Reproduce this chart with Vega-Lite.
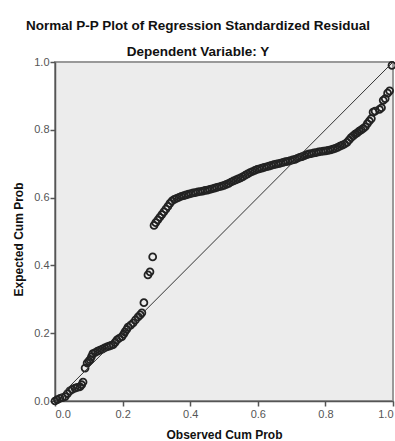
{
  "$schema": "https://vega.github.io/schema/vega-lite/v6.json",
  "width": 338,
  "height": 339,
  "autosize": {"type": "none"},
  "padding": {"left": 55, "top": 62, "right": 2, "bottom": 40},
  "background": "white",
  "title": {
    "text": "Normal P-P Plot of Regression Standardized Residual",
    "subtitle": "Dependent Variable: Y",
    "anchor": "middle",
    "frame": "group",
    "dx": -26,
    "offset": -2,
    "font": "Liberation Sans",
    "fontSize": 13.5,
    "fontWeight": "bold",
    "color": "#111111",
    "subtitleFont": "Liberation Sans",
    "subtitleFontSize": 13.5,
    "subtitleFontWeight": "bold",
    "subtitleColor": "#111111",
    "subtitlePadding": 12
  },
  "config": {
    "view": {"fill": "#ececec", "stroke": "#999999", "strokeWidth": 2},
    "axis": {
      "grid": false,
      "domainColor": "#555555",
      "domainWidth": 1.5,
      "tickColor": "#555555",
      "tickSize": 5,
      "tickWidth": 1.5,
      "labelColor": "#555555",
      "labelFont": "Liberation Sans",
      "labelFontSize": 11,
      "titleFont": "Liberation Sans",
      "titleFontSize": 12,
      "titleFontWeight": "bold",
      "titleColor": "#111111"
    }
  },
  "datasets": {
    "ref": [{"x": 0, "y": 0}, {"x": 1, "y": 1}],
    "pts": [
      {"x": 0.000, "y": 0.000}, {"x": 0.007, "y": 0.004}, {"x": 0.015, "y": 0.008}, {"x": 0.022, "y": 0.010},
      {"x": 0.030, "y": 0.013}, {"x": 0.037, "y": 0.022}, {"x": 0.044, "y": 0.030}, {"x": 0.051, "y": 0.034},
      {"x": 0.059, "y": 0.038}, {"x": 0.066, "y": 0.040}, {"x": 0.074, "y": 0.042}, {"x": 0.079, "y": 0.048},
      {"x": 0.083, "y": 0.056}, {"x": 0.089, "y": 0.097}, {"x": 0.095, "y": 0.112}, {"x": 0.100, "y": 0.118},
      {"x": 0.104, "y": 0.122}, {"x": 0.108, "y": 0.131}, {"x": 0.112, "y": 0.140}, {"x": 0.119, "y": 0.143},
      {"x": 0.126, "y": 0.147}, {"x": 0.133, "y": 0.150}, {"x": 0.140, "y": 0.153}, {"x": 0.147, "y": 0.157},
      {"x": 0.154, "y": 0.160}, {"x": 0.160, "y": 0.162}, {"x": 0.166, "y": 0.164}, {"x": 0.172, "y": 0.166},
      {"x": 0.178, "y": 0.173}, {"x": 0.183, "y": 0.180}, {"x": 0.190, "y": 0.185}, {"x": 0.198, "y": 0.190},
      {"x": 0.203, "y": 0.197}, {"x": 0.207, "y": 0.204}, {"x": 0.212, "y": 0.211}, {"x": 0.216, "y": 0.218},
      {"x": 0.224, "y": 0.224}, {"x": 0.231, "y": 0.230}, {"x": 0.238, "y": 0.239}, {"x": 0.246, "y": 0.248},
      {"x": 0.252, "y": 0.254}, {"x": 0.257, "y": 0.260}, {"x": 0.263, "y": 0.290}, {"x": 0.275, "y": 0.372},
      {"x": 0.281, "y": 0.381}, {"x": 0.289, "y": 0.425}, {"x": 0.293, "y": 0.518}, {"x": 0.298, "y": 0.526},
      {"x": 0.304, "y": 0.534}, {"x": 0.310, "y": 0.542}, {"x": 0.316, "y": 0.550}, {"x": 0.322, "y": 0.558},
      {"x": 0.328, "y": 0.566}, {"x": 0.334, "y": 0.574}, {"x": 0.340, "y": 0.583}, {"x": 0.346, "y": 0.590},
      {"x": 0.353, "y": 0.595}, {"x": 0.360, "y": 0.598}, {"x": 0.367, "y": 0.601}, {"x": 0.374, "y": 0.604},
      {"x": 0.381, "y": 0.606}, {"x": 0.388, "y": 0.608}, {"x": 0.395, "y": 0.610}, {"x": 0.402, "y": 0.612},
      {"x": 0.409, "y": 0.614}, {"x": 0.416, "y": 0.615}, {"x": 0.423, "y": 0.617}, {"x": 0.430, "y": 0.618},
      {"x": 0.437, "y": 0.619}, {"x": 0.444, "y": 0.621}, {"x": 0.451, "y": 0.622}, {"x": 0.458, "y": 0.624},
      {"x": 0.465, "y": 0.626}, {"x": 0.472, "y": 0.628}, {"x": 0.479, "y": 0.630}, {"x": 0.486, "y": 0.632},
      {"x": 0.493, "y": 0.634}, {"x": 0.500, "y": 0.636}, {"x": 0.507, "y": 0.639}, {"x": 0.514, "y": 0.642},
      {"x": 0.521, "y": 0.646}, {"x": 0.528, "y": 0.649}, {"x": 0.535, "y": 0.652}, {"x": 0.542, "y": 0.655},
      {"x": 0.549, "y": 0.658}, {"x": 0.556, "y": 0.662}, {"x": 0.563, "y": 0.666}, {"x": 0.570, "y": 0.670},
      {"x": 0.577, "y": 0.674}, {"x": 0.584, "y": 0.677}, {"x": 0.591, "y": 0.680}, {"x": 0.598, "y": 0.683},
      {"x": 0.605, "y": 0.685}, {"x": 0.612, "y": 0.687}, {"x": 0.619, "y": 0.689}, {"x": 0.626, "y": 0.691},
      {"x": 0.633, "y": 0.693}, {"x": 0.640, "y": 0.695}, {"x": 0.647, "y": 0.697}, {"x": 0.654, "y": 0.699},
      {"x": 0.661, "y": 0.700}, {"x": 0.668, "y": 0.702}, {"x": 0.675, "y": 0.704}, {"x": 0.682, "y": 0.706},
      {"x": 0.689, "y": 0.707}, {"x": 0.696, "y": 0.709}, {"x": 0.703, "y": 0.711}, {"x": 0.710, "y": 0.713},
      {"x": 0.717, "y": 0.716}, {"x": 0.724, "y": 0.719}, {"x": 0.731, "y": 0.721}, {"x": 0.738, "y": 0.724},
      {"x": 0.745, "y": 0.727}, {"x": 0.752, "y": 0.729}, {"x": 0.759, "y": 0.730}, {"x": 0.766, "y": 0.732},
      {"x": 0.773, "y": 0.733}, {"x": 0.780, "y": 0.735}, {"x": 0.787, "y": 0.736}, {"x": 0.794, "y": 0.737},
      {"x": 0.801, "y": 0.738}, {"x": 0.808, "y": 0.739}, {"x": 0.815, "y": 0.741}, {"x": 0.822, "y": 0.743},
      {"x": 0.829, "y": 0.745}, {"x": 0.836, "y": 0.748}, {"x": 0.843, "y": 0.752}, {"x": 0.850, "y": 0.755},
      {"x": 0.857, "y": 0.758}, {"x": 0.864, "y": 0.763}, {"x": 0.870, "y": 0.770}, {"x": 0.876, "y": 0.777},
      {"x": 0.882, "y": 0.782}, {"x": 0.888, "y": 0.787}, {"x": 0.894, "y": 0.791}, {"x": 0.900, "y": 0.796},
      {"x": 0.906, "y": 0.800}, {"x": 0.912, "y": 0.804}, {"x": 0.918, "y": 0.809}, {"x": 0.924, "y": 0.818},
      {"x": 0.930, "y": 0.826}, {"x": 0.936, "y": 0.833}, {"x": 0.941, "y": 0.852}, {"x": 0.947, "y": 0.855},
      {"x": 0.960, "y": 0.860}, {"x": 0.966, "y": 0.865}, {"x": 0.971, "y": 0.887}, {"x": 0.977, "y": 0.892},
      {"x": 0.984, "y": 0.908}, {"x": 0.990, "y": 0.915}, {"x": 0.997, "y": 0.990}
    ]
  },
  "encoding": {
    "x": {
      "field": "x", "type": "quantitative",
      "scale": {"domain": [0, 1], "nice": false, "zero": false},
      "axis": {"title": "Observed Cum Prob", "values": [0, 0.2, 0.4, 0.6, 0.8, 1], "format": ".1f", "labelPadding": 2, "titlePadding": 10}
    },
    "y": {
      "field": "y", "type": "quantitative",
      "scale": {"domain": [0, 1], "nice": false, "zero": false},
      "axis": {"title": "Expected Cum Prob", "values": [0, 0.2, 0.4, 0.6, 0.8, 1], "format": ".1f", "labelPadding": 1, "titlePadding": 8, "titleY": 177}
    }
  },
  "layer": [
    {
      "data": {"name": "pts"},
      "mark": {"type": "point", "filled": false, "stroke": "#222222", "strokeWidth": 1.8, "size": 48, "opacity": 1}
    },
    {
      "data": {"name": "ref"},
      "mark": {"type": "line", "stroke": "#333333", "strokeWidth": 1}
    }
  ]
}
